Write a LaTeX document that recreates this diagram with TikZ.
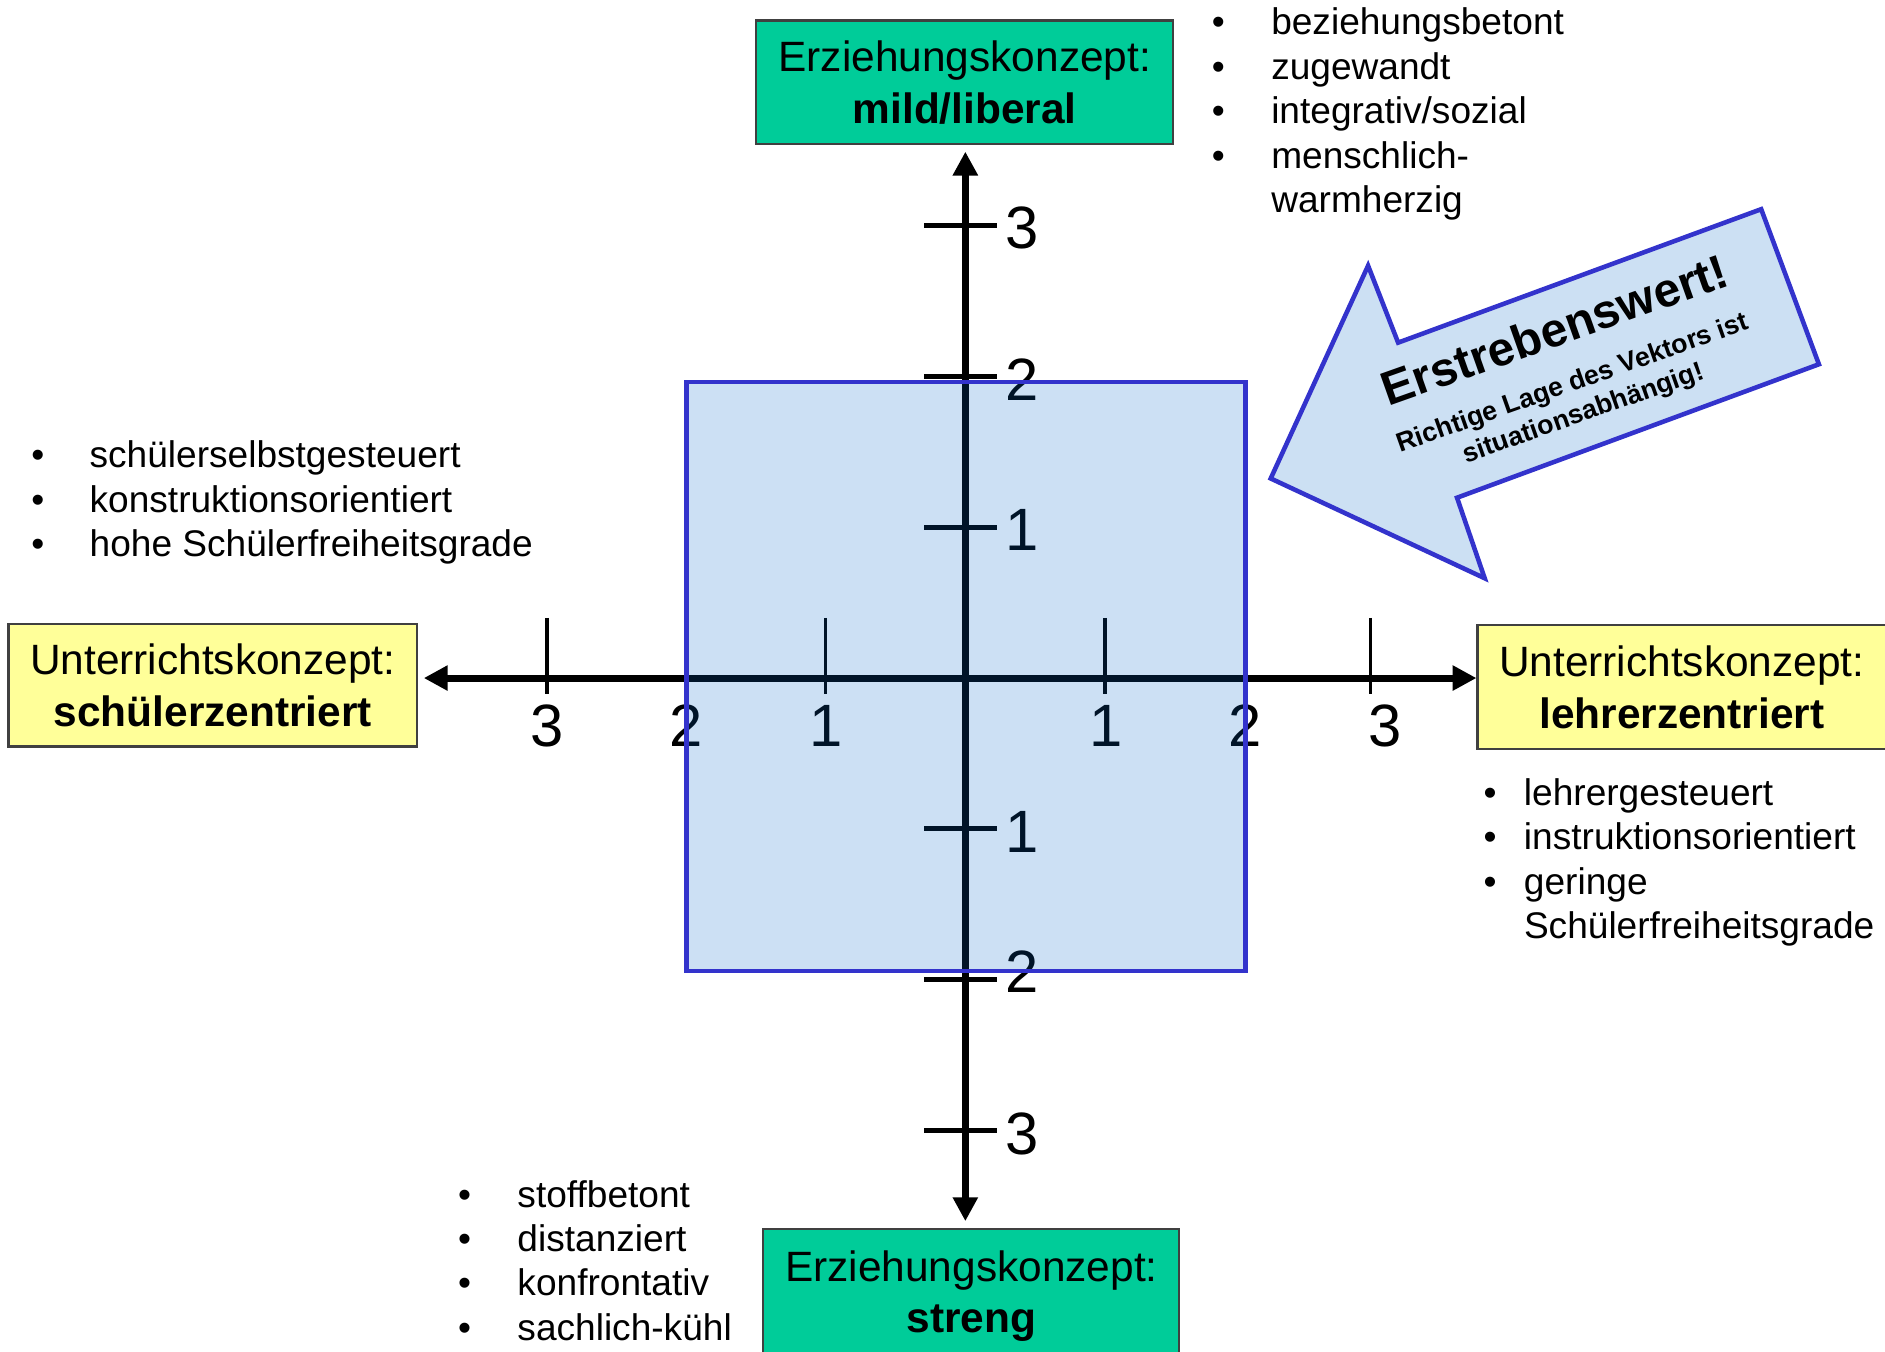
\documentclass[tikz,border=0pt]{standalone}
\usepackage{fontspec}
\setmainfont{Liberation Sans}
\usetikzlibrary{arrows.meta}

\definecolor{erzgreen}{HTML}{00CC99}
\definecolor{untyellow}{HTML}{FFFF99}
\definecolor{zoneblue}{HTML}{0064C8}
\definecolor{edgeblue}{HTML}{3333CC}
\definecolor{arrowfill}{HTML}{CCE0F3}

% one bullet line: bullet in a box of fixed width, then the text
\newcommand\bulletrow[2]{\makebox[#1][l]{\textbullet}#2}

\begin{document}
\begin{tikzpicture}[x=0.012022cm, y=-0.012022cm,
  conceptbox/.style={draw=black!75, line width=0.6pt, inner sep=0pt, align=center,
    font=\fontsize{12.07}{14.7}\selectfont},
  axisline/.style={line width=2pt, -{Triangle[length=6.8pt,width=6.8pt]}},
  htick/.style={line width=1.1pt},
  vtick/.style={line width=1.4pt},
  ticklabel/.style={inner sep=0pt, font=\fontsize{17}{20}\selectfont},
  bulletlist/.style={inner sep=0pt, anchor=base west, font=\fontsize{10.55}{12.66}\selectfont},
  zone/.style={fill=zoneblue, fill opacity=0.2, draw=edgeblue, draw opacity=1, line width=1.2pt},
  bigarrow/.style={fill=arrowfill, draw=edgeblue, line width=1.3pt},
]
\useasboundingbox (0,0) rectangle (1568,1124);

% concept boxes at the ends of the axes
\node[conceptbox, fill=erzgreen, minimum width=4.172cm, minimum height=1.238cm] (mild) at (802.5,68.5)
  {Erziehungskonzept:\\\textbf{mild/liberal}};
\node[conceptbox, fill=erzgreen, minimum width=4.160cm, minimum height=1.334cm] (streng) at (808,1078)
  {Erziehungskonzept:\\\textbf{streng}};
\node[conceptbox, fill=untyellow, minimum width=4.087cm, minimum height=1.226cm] (schueler) at (177,570)
  {Unterrichtskonzept:\\\textbf{schülerzentriert}};
\node[conceptbox, fill=untyellow, minimum width=4.087cm, minimum height=1.238cm] (lehrer) at (1399,571.5)
  {Unterrichtskonzept:\\\textbf{lehrerzentriert}};

% axes
\coordinate (o) at (803,564);
\draw[axisline, shorten >=1.6pt] (o) -- (o -| schueler.east);
\draw[axisline] (o) -- (o -| lehrer.west);
\draw[axisline, shorten >=1.8pt] (o) -- (o |- mild.south);
\draw[axisline, shorten >=2pt] (o) -- (o |- streng.north);

% ticks
\foreach \x in {455,570.5,686.7,919.3,1035.6,1140}
  \draw[htick] (\x,514) -- (\x,577);
\foreach \y in {187.5,313,438.5,689.5,815,940.5}
  \draw[vtick] (769,\y) -- (829,\y);

% tick labels
\foreach \x/\t [count=\i] in {455/3,571/2,687/1,920/1,1036/2,1152/3}
  \node[ticklabel] (hl\i) at (\x,604) {\t};
\foreach \y/\t [count=\i] in {190/3,316/2,441/1,692/1,808/2,943/3}
  \node[ticklabel] (vl\i) at (850,\y) {\t};

% region around the origin
\draw[zone] (571,318) rectangle (1036,808);

% characteristics of each pole
\node[bulletlist] (mildlist) at (1007.5,29) {\begin{tabular}[t]{@{}l@{}}
  \bulletrow{16.9pt}{beziehungsbetont}\\
  \bulletrow{16.9pt}{zugewandt}\\
  \bulletrow{16.9pt}{integrativ/sozial}\\
  \bulletrow{16.9pt}{menschlich-}\\
  \hspace*{16.9pt}warmherzig
\end{tabular}};
\node[bulletlist] (schuelerlist) at (25.5,389) {\begin{tabular}[t]{@{}l@{}}
  \bulletrow{16.6pt}{schülerselbstgesteuert}\\
  \bulletrow{16.6pt}{konstruktionsorientiert}\\
  \bulletrow{16.6pt}{hohe Schülerfreiheitsgrade}
\end{tabular}};
\node[bulletlist] (lehrerlist) at (1233.5,670) {\begin{tabular}[t]{@{}l@{}}
  \bulletrow{11.5pt}{lehrergesteuert}\\
  \bulletrow{11.5pt}{instruktionsorientiert}\\
  \bulletrow{11.5pt}{geringe}\\
  \hspace*{11.5pt}Schülerfreiheitsgrade
\end{tabular}};
\node[bulletlist] (strenglist) at (380.5,1004) {\begin{tabular}[t]{@{}l@{}}
  \bulletrow{16.9pt}{stoffbetont}\\
  \bulletrow{16.9pt}{distanziert}\\
  \bulletrow{16.9pt}{konfrontativ}\\
  \bulletrow{16.9pt}{sachlich-kühl}
\end{tabular}};

% block arrow pointing to the origin region
\draw[bigarrow] (1163,285) -- (1465,174) -- (1513,303) -- (1212,414)
  -- (1235,481) -- (1057,398) -- (1138,221) -- cycle;
\node[rotate=19.5, inner sep=0pt, font=\bfseries\fontsize{13.6}{16}\selectfont] (goal) at (1293,274)
  {Erstrebenswert!};
\node[rotate=19.5, inner sep=0pt, align=center, font=\bfseries\fontsize{7.6}{9.1}\selectfont] (hint) at (1313,332)
  {Richtige Lage des Vektors ist\\situationsabhängig!};
\end{tikzpicture}
\end{document}
